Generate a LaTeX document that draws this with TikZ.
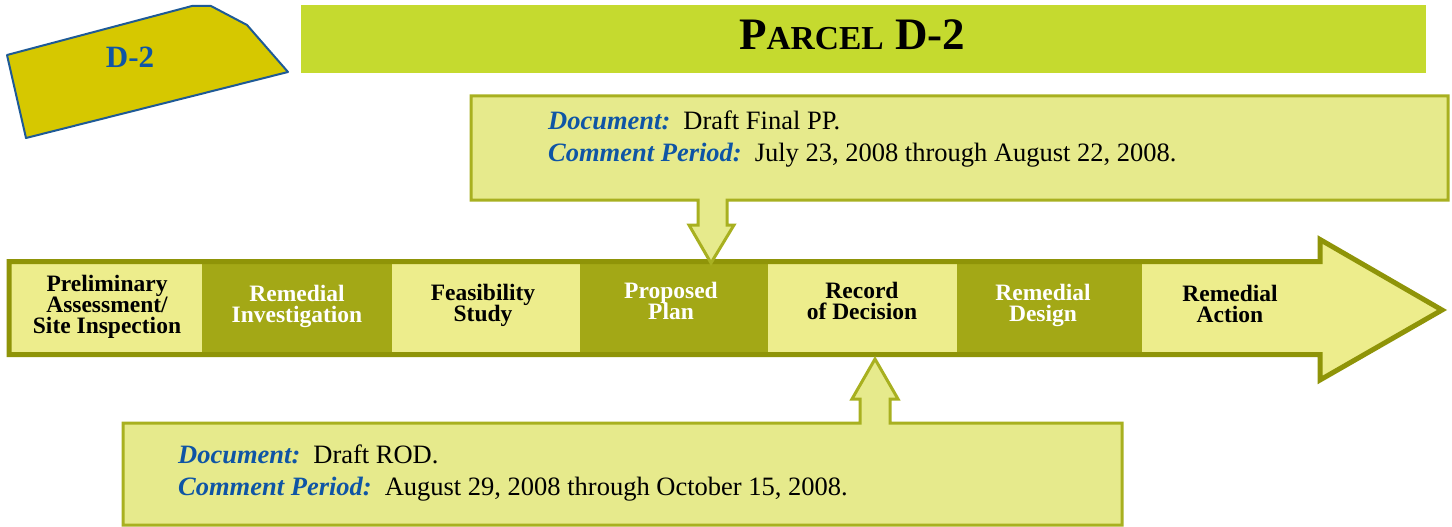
\documentclass[tikz,border=0pt]{standalone}
\usepackage{fontspec}
\setmainfont{Liberation Serif}
\definecolor{lightcell}{RGB}{237,237,140}
\definecolor{darkcell}{RGB}{163,168,22}
\definecolor{bandline}{RGB}{143,148,8}
\definecolor{callfill}{RGB}{230,234,140}
\definecolor{callline}{RGB}{168,176,32}
\definecolor{titlebar}{RGB}{197,218,47}
\definecolor{parcelfill}{RGB}{214,200,0}
\definecolor{parcelline}{RGB}{30,90,150}
\definecolor{labelblue}{RGB}{15,85,165}
\newcommand{\stagefont}{\fontsize{23.5}{21}\selectfont\bfseries}
\lineskiplimit=-100pt
\begin{document}
\begin{tikzpicture}[x=1pt,y=-1pt,
  stagetext/.style={font=\stagefont, align=center, inner sep=0pt},
  lighttext/.style={stagetext, text=black},
  darktext/.style={stagetext, text=white},
  calltext/.style={font=\fontsize{26.5}{32}\selectfont, anchor=base west, inner sep=0pt},
  calloutshape/.style={fill=callfill, draw=callline, line width=3pt, line join=miter}
]
\useasboundingbox (0,0) rectangle (1452,527);

% parcel sketch
\draw[fill=parcelfill, draw=parcelline, line width=2pt, line join=round]
  (7,55) -- (192,6) -- (211,6) -- (247,25) -- (288,72) -- (26,138) -- cycle;
\node[anchor=base, inner sep=0pt, text=labelblue, font=\fontsize{31}{31}\selectfont\bfseries] (parcel) at (130,68) {D-2};

% title bar
\fill[titlebar] (301,5) rectangle (1426,73);
\node[anchor=base, inner sep=0pt, font=\bfseries] (title) at (852,50)
  {{\fontsize{45}{45}\selectfont P}{\fontsize{33.5}{33.5}\selectfont ARCEL}{\fontsize{45}{45}\selectfont\ D-2}};

% main band arrow
\fill[lightcell] (9,261.5) -- (1320,261.5) -- (1320,239.5) -- (1442,310) -- (1320,380) -- (1320,354.5) -- (9,354.5) -- cycle;
\fill[darkcell] (202,264) rectangle (392,352);
\fill[darkcell] (580,264) rectangle (768,352);
\fill[darkcell] (957,264) rectangle (1142,352);
\draw[bandline, line width=5pt, line join=miter]
  (9,261.5) -- (1320,261.5) -- (1320,239.5) -- (1442,310) -- (1320,380) -- (1320,354.5) -- (9,354.5) -- cycle;

\node[lighttext] (pa) at (107,307) {Preliminary\\Assessment/\\Site Inspection};
\node[darktext] (ri) at (297,306) {Remedial\\Investigation};
\node[lighttext] (fs) at (483,305) {Feasibility\\Study};
\node[darktext] (pp) at (671,301) {Proposed\\Plan};
\node[lighttext] (rod) at (862,301) {Record\\of Decision};
\node[darktext] (rd) at (1043,305) {Remedial\\Design};
\node[lighttext] (ra) at (1230,304) {Remedial\\Action};

% top callout
\draw[calloutshape]
  (471,96) -- (1448,96) -- (1448,200) -- (727,200) -- (727,225) -- (734,225) -- (711,263)
  -- (689,225) -- (698,225) -- (698,200) -- (471,200) -- cycle;
\node[calltext] (doc1) at (548,129) {{\color{labelblue}\bfseries\itshape Document:}\hspace{13pt}Draft Final PP.};
\node[calltext] (per1) at (548,161) {{\color{labelblue}\bfseries\itshape Comment Period:}\hspace{13pt}July 23, 2008 through August 22, 2008.};

% bottom callout
\draw[calloutshape]
  (123,423) -- (860,423) -- (860,399) -- (852,399) -- (875,359) -- (898,399) -- (890,399)
  -- (890,423) -- (1122,423) -- (1122,525) -- (123,525) -- cycle;
\node[calltext] (doc2) at (178,463) {{\color{labelblue}\bfseries\itshape Document:}\hspace{13pt}Draft ROD.};
\node[calltext] (per2) at (178,495) {{\color{labelblue}\bfseries\itshape Comment Period:}\hspace{13pt}August 29, 2008 through October 15, 2008.};
\end{tikzpicture}
\end{document}
